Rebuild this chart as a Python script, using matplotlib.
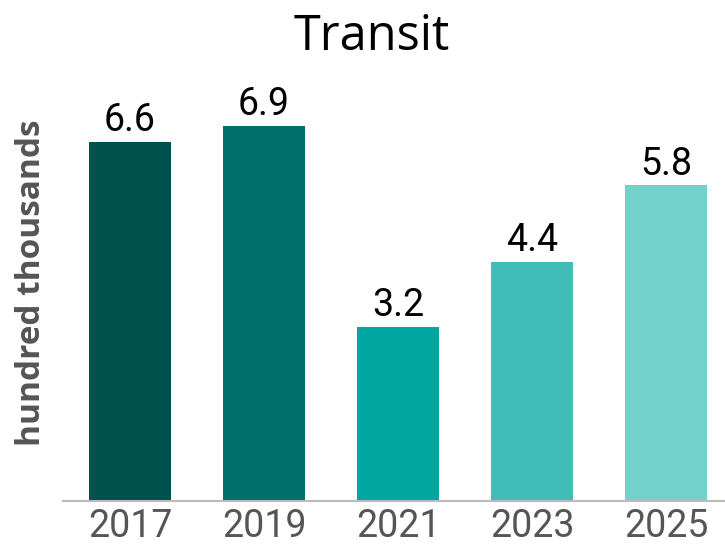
import matplotlib
matplotlib.use("Agg")
import matplotlib.pyplot as plt

years = ["2017", "2019", "2021", "2023", "2025"]
values = [6.6, 6.9, 3.2, 4.4, 5.8]
colors = ["#00524f", "#00706a", "#00a69f", "#41bdb8", "#74d0cb"]
title = "Transit"
ylabel = "hundred thousands"

W, H = 725, 546
fig = plt.figure(figsize=(W / 100, H / 100), dpi=100)
left, bottom, right, top = 63, 45, 725, 436  # pixels
ax = fig.add_axes([left / W, bottom / H, (right - left) / W, (top - bottom) / H])

x = range(len(years))
ax.bar(x, values, width=0.61, color=colors)
ax.set_xlim(-0.5, 4.44)
ax.set_ylim(0, (top - bottom) / 54.4)

for xi, v in zip(x, values):
    ax.annotate(f"{v:.1f}", (xi, v), xytext=(0, 2), textcoords="offset points",
                ha="center", va="bottom", fontsize=27, family="Roboto", color="black")

ax.set_xticks(list(x))
ax.set_xticklabels(years, family="Roboto", fontsize=27, color="#555555")
ax.tick_params(axis="x", length=0, pad=5)
ax.set_yticks([])
for s in ["left", "right", "top"]:
    ax.spines[s].set_visible(False)
ax.spines["bottom"].set_color("#bbbbbb")
ax.spines["bottom"].set_linewidth(1.5)

fig.text(372 / W, 1 - 37 / H, title, ha="center", va="center",
         fontsize=35, family="Open Sans", weight="normal", color="black")
fig.text(32 / W, 1 - 283 / H, ylabel, ha="center", va="center", rotation=90,
         fontsize=24, family="Open Sans", weight="bold", color="#555555")

fig.savefig("out.png", dpi=100)
